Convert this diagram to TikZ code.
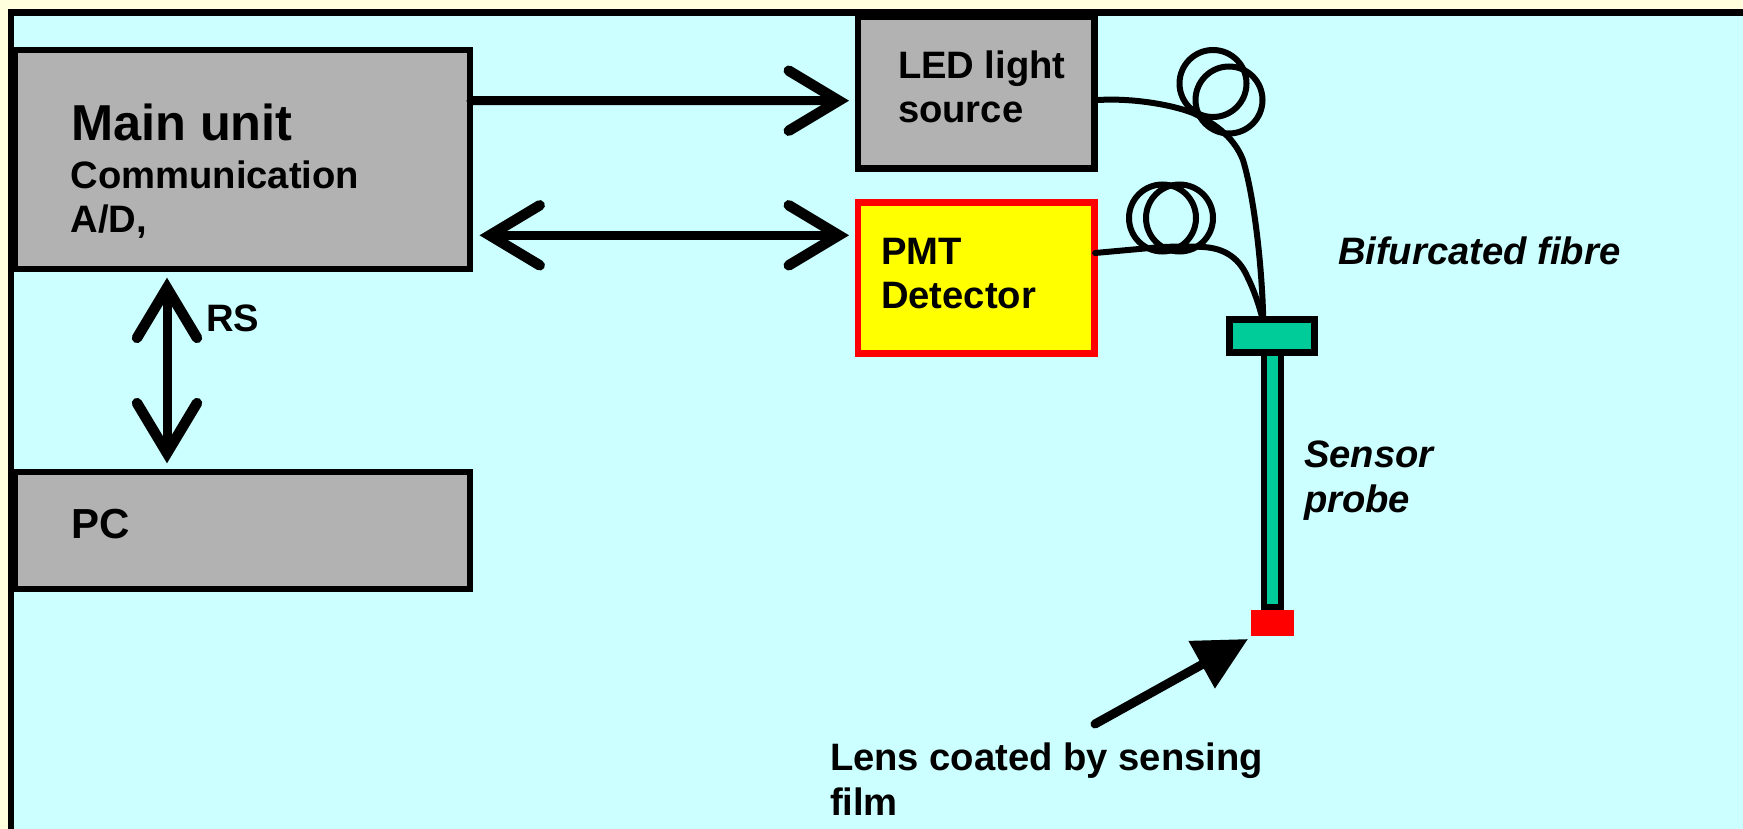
\documentclass[tikz,border=0pt]{standalone}
\usepackage{fontspec}
\setmainfont{Liberation Sans}
\usetikzlibrary{arrows.meta}
\definecolor{pagebg}{HTML}{FFFFDD}
\definecolor{panel}{HTML}{CCFFFF}
\definecolor{boxgray}{HTML}{B2B2B2}
\definecolor{probegreen}{HTML}{00CC99}
\definecolor{detyellow}{HTML}{FFFF00}
\definecolor{detred}{HTML}{FF0000}
\tikzset{
  x=1pt,y=-1pt,
  box/.style={draw=black,line width=6.5pt,fill=boxgray,rectangle,inner sep=0pt,outer sep=0pt,line join=miter},
  detbox/.style={box,draw=detred,fill=detyellow},
  greenbox/.style={box,fill=probegreen},
  lensbox/.style={rectangle,fill=detred,inner sep=0pt,outer sep=0pt},
  coil/.style={circle,draw=black,line width=6pt,minimum size=67pt,inner sep=0pt,outer sep=0pt},
  fibre/.style={draw=black,line width=6pt,line cap=round},
  barb/.tip={Straight Barb[length=50pt,width=60pt,line width=10.5pt,line cap=round,line join=miter]},
  link/.style={draw=black,line width=9pt,line cap=round},
  pointer/.style={draw=black,line width=9pt,line cap=round,-{Triangle[length=53pt,width=52pt]}},
  lbl/.style={anchor=base west,inner sep=0pt,outer sep=0pt,font=\fontsize{38.2}{38.2}\selectfont\bfseries},
  biglbl/.style={lbl,font=\fontsize{50.5}{50.5}\selectfont\bfseries},
  itlbl/.style={lbl,font=\fontsize{38.2}{38.2}\selectfont\bfseries\itshape},
}
\begin{document}
\begin{tikzpicture}
\useasboundingbox (0,0) rectangle (1743,829);
\fill[pagebg] (0,0) rectangle (1743,829);
\path[fill=panel] (11.2,12.5) rectangle (1760,850);
\draw[line width=6.4pt,line cap=butt] (11.2,850) -- (11.2,12.5) -- (1760,12.5);

\node[box,minimum width=455pt,minimum height=219pt] (main) at (242.5,159.5) {};
\node[box,minimum width=455pt,minimum height=117pt] (pc) at (242.5,530.5) {};
\node[box,minimum width=236.6pt,minimum height=152.2pt] (led) at (976.3,92.6) {};
\node[detbox,minimum width=236.6pt,minimum height=151.4pt] (pmt) at (976.3,278) {};
\node[greenbox,minimum width=17pt,minimum height=255pt] (probe) at (1272.5,479.5) {};
\node[greenbox,minimum width=85pt,minimum height=33pt] (conn) at (1272.2,336.2) {};
\node[lensbox,minimum width=43pt,minimum height=25.7pt] (lens) at (1272.5,622.85) {};

\node[coil] (c1) at (1213,83.5) {};
\node[coil] (c2) at (1229,100) {};
\node[coil] (c3) at (1162.5,218) {};
\node[coil] (c4) at (1179.5,218) {};

\draw[fibre] ([shift={(4,7.4)}]led.east) .. controls (1130,98) and (1170,104) .. (1193,113)
  .. controls (1225,128) and (1237,145) .. (1243,160)
  .. controls (1255,200) and (1262,270) .. ([shift={(-9,-2)}]conn.north);
\draw[fibre] ([shift={(0.5,-25)}]pmt.east) -- (1150,248) .. controls (1165,246.5) and (1190,246) .. (1203,247)
  .. controls (1222,248) and (1238,256) .. (1247,276)
  .. controls (1254,290) and (1259,305) .. ([shift={(-10,-2)}]conn.north);

\draw[link,-{barb}] ([shift={(1,-58.8)}]main.east) -- ([shift={(-9,8.1)}]led.west);
\draw[link,{barb}-{barb}] ([shift={(9.5,75.8)}]main.east) -- ([shift={(-9,-42.7)}]pmt.west);
\draw[link,{barb}-{barb}] ([shift={(-75.5,8.7)}]main.south) -- ([shift={(-75.5,-8.7)}]pc.north);

\coordinate (ptrstart) at (1095,724);
\draw[pointer] (ptrstart) -- ([shift={(-3,3.3)}]lens.south west);

\node[biglbl] (tmain) at (71,141) {Main unit};
\node[lbl] (tcomm) at (70.5,189) {Communication};
\node[lbl] (tad) at (70.5,233) {A/D,};
\node[lbl] (trs) at (206,331.7) {RS};
\node[lbl,font=\fontsize{42}{42}\selectfont\bfseries] (tpc) at (71.5,538) {PC};
\node[lbl] (tled) at (898,78.3) {LED light};
\node[lbl] (tsrc) at (898,122.7) {source};
\node[lbl] (tpmt) at (881,264.3) {PMT};
\node[lbl] (tdet) at (881,308.3) {Detector};
\node[itlbl] (tbif) at (1338,264.5) {Bifurcated fibre};
\node[itlbl] (tsen) at (1304,467) {Sensor};
\node[itlbl] (tprb) at (1304,512) {probe};
\node[lbl] (tlen) at (830,770) {Lens coated by sensing};
\node[lbl] (tfil) at (830,815) {film};
\end{tikzpicture}
\end{document}
